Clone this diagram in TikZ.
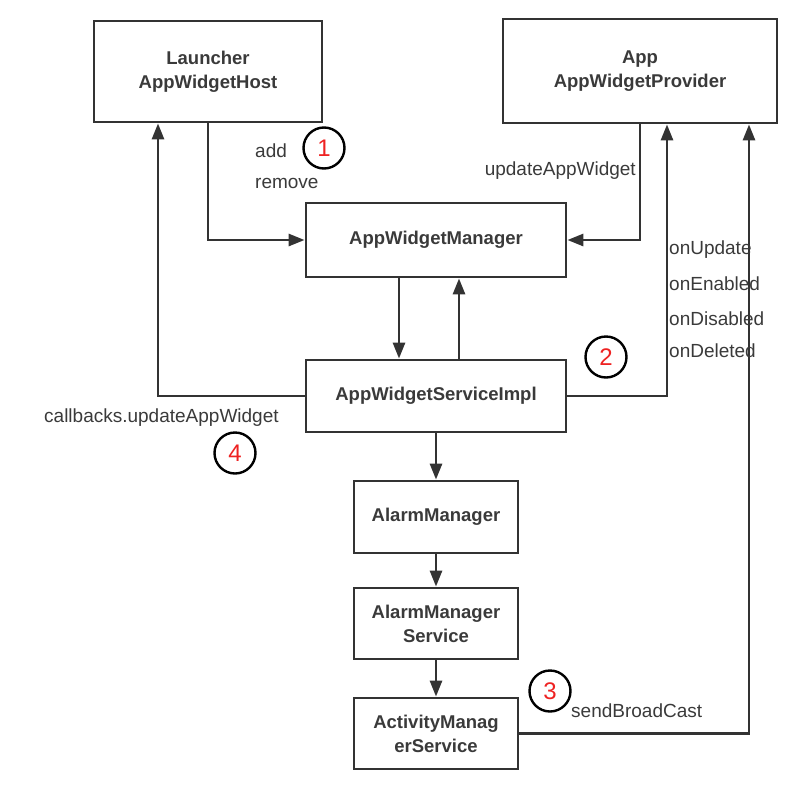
\documentclass[tikz,border=0pt]{standalone}
\usepackage{fontspec}
\setmainfont{Liberation Sans}
\usetikzlibrary{arrows.meta}
\definecolor{linegray}{HTML}{333333}
\definecolor{textgray}{HTML}{3A3A3A}
\definecolor{numred}{HTML}{EE2222}
\begin{document}
\begin{tikzpicture}[x=1pt, y=-1pt, >={Triangle[length=16pt,width=12pt]},
    box/.style={draw=linegray, line width=2.8pt, align=center, inner sep=0pt,
        text=textgray, font=\fontsize{18.5}{24}\selectfont\bfseries},
    link/.style={draw=linegray, line width=2.8pt},
    lbl/.style={inner sep=0pt, text=textgray, font=\fontsize{19}{20}\selectfont},
    numcirc/.style={circle, draw=black, line width=2.4pt, minimum size=41pt, inner sep=0pt,
        text=numred, font=\fontsize{24}{24}\selectfont}]
    \useasboundingbox (0,0) rectangle (796,785);
    % boxes
    \node[box, minimum width=228pt, minimum height=101pt] (host) at (208,71.5) {Launcher\\AppWidgetHost};
    \node[box, minimum width=274pt, minimum height=104pt] (provider) at (640,71) {App\\AppWidgetProvider};
    \node[box, minimum width=260pt, minimum height=74pt] (manager) at (436,240) {AppWidgetManager};
    \node[box, minimum width=260pt, minimum height=72pt] (service) at (436,396) {AppWidgetServiceImpl};
    \node[box, minimum width=164pt, minimum height=72pt] (alarm) at (436,517) {AlarmManager};
    \node[box, minimum width=164pt, minimum height=71pt] (alarmsvc) at (436,623.5) {AlarmManager\\Service};
    \node[box, minimum width=164pt, minimum height=71pt] (ams) at (436,733.5) {ActivityManag\\erService};
    % connectors
    \draw[link,->] (host.south) |- (manager.west);
    \draw[link,->] (service.west) -| ([xshift=-50pt]host.south);
    \draw[link,->] ([xshift=-37pt]manager.south) -- ([xshift=-37pt]service.north);
    \draw[link,->] ([xshift=23pt]service.north) -- ([xshift=23pt]manager.south);
    \draw[link,->] (provider.south) |- (manager.east);
    \draw[link,->] (service.east) -| ([xshift=27pt]provider.south);
    \draw[link,->] (service.south) -- (alarm.north);
    \draw[link,->] (alarm.south) -- (alarmsvc.north);
    \draw[link,->] (alarmsvc.south) -- (ams.north);
    \draw[link,->] (ams.east) -| ([xshift=109pt]provider.south);
    % labels
    \node[lbl, anchor=west] (add) at (255,151) {add};
    \node[lbl, anchor=west] (remove) at (255,183) {remove};
    \node[lbl, anchor=east] (upd) at (636,171) {updateAppWidget};
    \node[lbl, anchor=west] (onupd) at (669,250) {onUpdate};
    \node[lbl, anchor=west] (onena) at (669,284) {onEnabled};
    \node[lbl, anchor=west] (ondis) at (669,319) {onDisabled};
    \node[lbl, anchor=west] (ondel) at (669,351) {onDeleted};
    \node[lbl, anchor=west] (cb) at (44,418) {callbacks.updateAppWidget};
    \node[lbl, anchor=west] (send) at (571,711) {sendBroadCast};
    % step numbers
    \node[numcirc] (n1) at (324,148) {1};
    \node[numcirc] (n2) at (606,357) {2};
    \node[numcirc] (n3) at (550,691) {3};
    \node[numcirc] (n4) at (235,453) {4};
\end{tikzpicture}
\end{document}
